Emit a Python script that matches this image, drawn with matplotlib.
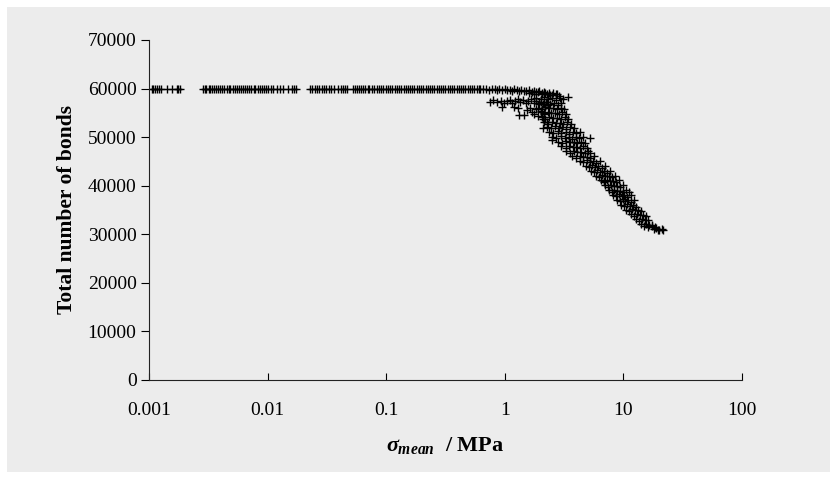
import numpy as np
import matplotlib
matplotlib.use("Agg")
import matplotlib.pyplot as plt
from matplotlib.patches import Rectangle

plt.rcParams['font.family'] = 'Liberation Serif'
plt.rcParams['mathtext.fontset'] = 'custom'
plt.rcParams['mathtext.it'] = 'Liberation Serif:italic:bold'
plt.rcParams['mathtext.rm'] = 'Liberation Serif:bold'
plt.rcParams['mathtext.bf'] = 'Liberation Serif:bold'

# plateau: all bonds intact (~60000)
flat_x = [0.00106, 0.00109, 0.00113, 0.00116, 0.00121, 0.00126, 0.00141, 0.00156, 0.00171, 0.00176, 0.00182,
          0.00285, 0.00296, 0.00302, 0.00318, 0.00327, 0.00342, 0.00355, 0.00368, 0.00385, 0.00398, 0.00416,
          0.00432, 0.00451, 0.00470, 0.00486, 0.00509, 0.00528, 0.00550, 0.00574, 0.00593, 0.00620, 0.00648,
          0.00666, 0.00701, 0.00729, 0.00762, 0.00790, 0.00822, 0.00860, 0.00897, 0.00941, 0.00978, 0.0101,
          0.0106, 0.0110, 0.0119, 0.0127, 0.0134, 0.0150, 0.0160, 0.0166, 0.0172,
          0.0226, 0.0236, 0.0249, 0.0262, 0.0271,
          0.0285, 0.0298, 0.0312, 0.0330, 0.0345, 0.0362, 0.0395, 0.0412, 0.0433, 0.0451, 0.0470, 0.0520,
          0.0541, 0.0566, 0.0590, 0.0612, 0.0640, 0.0668, 0.0701, 0.0722, 0.0760, 0.0795, 0.0830, 0.0868,
          0.0905, 0.0948, 0.0990, 0.1035, 0.108, 0.113, 0.118, 0.123, 0.128, 0.134, 0.140, 0.146, 0.152,
          0.159, 0.166, 0.173, 0.181, 0.189, 0.197, 0.206, 0.215, 0.224, 0.234, 0.244, 0.255, 0.266, 0.278,
          0.290, 0.303, 0.316, 0.330, 0.345, 0.360, 0.376, 0.392, 0.410, 0.428, 0.447, 0.466, 0.487, 0.508,
          0.530, 0.554, 0.578, 0.604]
flat_y = [60000] * len(flat_x)

# onset of breakage: upper rows near 60000 / 57000 and scattered points
onset_x = [0.62, 0.66, 0.70, 0.74, 0.78, 0.82, 0.86, 0.90, 0.95, 1.00, 1.05, 1.10, 1.15, 1.20, 1.26, 1.32,
           1.38, 1.45, 1.52, 1.60, 1.68, 1.76, 1.85, 1.95, 2.05, 2.15, 2.25, 2.35, 2.5, 2.7, 2.85, 3.4,
           0.75, 0.80, 0.86, 0.92, 0.98, 1.04, 1.10, 1.16, 1.22, 1.28, 1.35, 1.42, 1.50, 1.58, 1.66, 1.75,
           1.84, 1.93, 2.02, 2.12, 2.22, 2.32,
           0.95, 1.2, 1.28, 1.31, 1.45, 1.55, 1.62, 1.7, 1.78, 1.85, 1.92, 2.0, 2.08, 2.1, 2.15, 2.25, 2.5,
           5.2, 6.8]
onset_y = [60000, 59900, 60000, 59800, 60000, 59900, 59700, 60000, 59800, 59900, 59700, 59800, 59600, 59900,
           59700, 59500, 59800, 59600, 59400, 59700, 59300, 59500, 59200, 59400, 59000, 59300, 58800, 59100,
           58600, 58900, 58400, 58300,
           57300, 57600, 57200, 57500, 57000, 57400, 57700, 57100, 57500, 57800, 57200, 57600, 57000, 57400,
           57800, 57100, 57500, 56900, 57300, 56800, 57200, 56600,
           56300, 56200, 55900, 54500, 54500, 55500, 56000, 55200, 54800, 55700, 54300, 55300, 53800, 51900,
           54900, 53200, 49400,
           49900, 40900]

# main degradation band
band_x = [1.6, 1.75, 1.9, 2.05, 2.2, 2.4, 2.55, 2.75,
          1.85, 2.0, 2.15, 2.3, 2.5, 2.7, 2.9, 3.1,
          1.95, 2.1, 2.25, 2.4, 2.6, 2.8, 3.0,
          1.9, 2.05, 2.2, 2.35, 2.55, 2.75, 2.95, 3.15,
          2.0, 2.15, 2.3, 2.45, 2.65, 2.85, 3.05, 3.3,
          2.05, 2.2, 2.35, 2.55, 2.75, 2.95, 3.2, 3.4,
          2.15, 2.3, 2.5, 2.7, 2.9, 3.1, 3.35, 3.6,
          2.25, 2.45, 2.65, 2.85, 3.05, 3.3, 3.55, 3.8,
          2.35, 2.55, 2.8, 3.0, 3.25, 3.5, 3.75, 4.0, 4.3,
          2.5, 2.7, 2.95, 3.2, 3.45, 3.7, 3.95, 4.25, 4.55,
          2.8, 3.05, 3.3, 3.55, 3.8, 4.05, 4.35, 4.7,
          3.0, 3.25, 3.5, 3.75, 4.0, 4.3, 4.6, 4.95,
          3.3, 3.55, 3.8, 4.1, 4.4, 4.7, 5.0, 5.2,
          3.7, 4.0, 4.3, 4.6, 4.9, 5.25, 5.6,
          4.3, 4.6, 4.9, 5.2, 5.55, 5.9, 6.3,
          4.8, 5.1, 5.45, 5.8, 6.15, 6.55, 7.0,
          5.3, 5.65, 6.0, 6.4, 6.8, 7.25, 7.7,
          5.9, 6.25, 6.65, 7.05, 7.5, 8.0, 8.5,
          6.5, 6.9, 7.3, 7.75, 8.2, 8.7, 9.2,
          7.0, 7.4, 7.85, 8.3, 8.8, 9.35, 9.9,
          7.5, 7.95, 8.4, 8.9, 9.45, 10.0, 10.6, 11.2,
          8.1, 8.6, 9.1, 9.65, 10.2, 10.8, 11.5,
          8.8, 9.3, 9.85, 10.4, 11.0, 11.7, 12.4,
          9.6, 10.2, 10.8, 11.4, 12.1, 12.8,
          10.6, 11.2, 11.9, 12.6, 13.3, 14.1,
          11.6, 12.3, 13.0, 13.8, 14.6, 15.4,
          12.8, 13.5, 14.3, 15.1, 16.0,
          14.0, 14.8, 15.6, 16.5, 17.4,
          16.0, 17.5, 18.5,
          18.0, 19.0, 20.0, 21.0,
          19.5, 21.5]
band_y = [59100, 58800, 59200, 58900, 59000, 58700, 59100, 58800,
          58100, 57800, 58200, 57900, 58000, 57700, 58100, 57900,
          57100, 56800, 57200, 56900, 57000, 56700, 57100,
          56100, 55800, 56200, 55900, 56000, 55700, 56100, 55800,
          55100, 54800, 55200, 54900, 55000, 54700, 55100, 54800,
          54100, 53800, 54200, 53900, 54000, 53700, 54100, 53800,
          53100, 52800, 53200, 52900, 53000, 52700, 53100, 52800,
          52100, 51800, 52200, 51900, 52000, 51700, 52100, 51800,
          51100, 50800, 51200, 50900, 51000, 50700, 51100, 50800, 51000,
          50100, 49800, 50200, 49900, 50000, 49700, 50100, 49800, 50000,
          49100, 48800, 49200, 48900, 49000, 48700, 49100, 48800,
          48100, 47800, 48200, 47900, 48000, 47700, 48100, 47800,
          47100, 46800, 47200, 46900, 47000, 46700, 47100, 46800,
          46100, 45800, 46200, 45900, 46000, 45700, 46100,
          45100, 44800, 45200, 44900, 45000, 44700, 45100,
          44100, 43800, 44200, 43900, 44000, 43700, 44100,
          43100, 42800, 43200, 42900, 43000, 42700, 43100,
          42100, 41800, 42200, 41900, 42000, 41700, 42100,
          41100, 40800, 41200, 40900, 41000, 40700, 41100,
          40100, 39800, 40200, 39900, 40000, 39700, 40100,
          39100, 38800, 39200, 38900, 39000, 38700, 39100, 38800,
          38100, 37800, 38200, 37900, 38000, 37700, 38100,
          37100, 36800, 37200, 36900, 37000, 36700, 37100,
          36100, 35800, 36200, 35900, 36000, 35700,
          35100, 34800, 35200, 34900, 35000, 34700,
          34100, 33800, 34200, 33900, 34000, 33700,
          33100, 32800, 33200, 32900, 33000,
          32100, 31800, 32200, 31900, 32000,
          31500, 31700, 31400,
          31100, 31300, 30900, 31000,
          30800, 30900]

x_ticks = [0.001, 0.01, 0.1, 1, 10, 100]
x_ticklabels = ['0.001', '0.01', '0.1', '1', '10', '100']
y_ticks = [0, 10000, 20000, 30000, 40000, 50000, 60000, 70000]

fig = plt.figure(figsize=(8.38, 4.79), dpi=100, facecolor='white')
fig.patches.append(Rectangle((7 / 838, 7 / 479), 823 / 838, 465 / 479, transform=fig.transFigure,
                             facecolor='#ececec', edgecolor='none', zorder=-10))
ax = fig.add_axes([149 / 838, 1 - 380 / 479, 593 / 838, 340 / 479])
ax.set_facecolor('none')
ax.set_zorder(5)

mk = dict(linestyle='none', marker='+', color='black', markersize=6, markeredgewidth=1)
ax.plot(flat_x, flat_y, **mk)
ax.plot(onset_x, onset_y, **mk)
ax.plot(band_x, band_y, **mk)

ax.set_xscale('log')
ax.set_xlim(0.001, 100)
ax.set_ylim(0, 70000)
ax.set_xticks(x_ticks)
ax.set_xticklabels(x_ticklabels)
ax.minorticks_off()
ax.set_yticks(y_ticks)
ax.tick_params(axis='x', direction='in', length=5, labelsize=14, pad=16)
ax.tick_params(axis='y', direction='out', length=6, labelsize=14, pad=3)
for s in ['top', 'right']:
    ax.spines[s].set_visible(False)
for s in ['left', 'bottom']:
    ax.spines[s].set_color('#222222')

ax.set_ylabel('Total number of bonds', fontsize=15.5, fontweight='bold', labelpad=8)
ax.set_xlabel(r'$\sigma_{mean}$  / MPa', fontsize=16, fontweight='bold', labelpad=11)

fig.savefig('out.png', dpi=100, facecolor='white')
